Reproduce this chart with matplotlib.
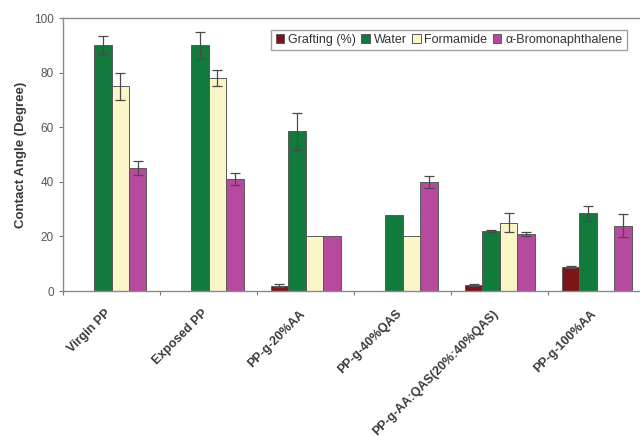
import numpy as np
import matplotlib.pyplot as plt
from matplotlib.transforms import ScaledTranslation

plt.rcParams['font.family'] = ['Liberation Sans', 'DejaVu Sans']

samples = ["Virgin PP", "Exposed PP", "PP-g-20%AA", "PP-g-40%QAS",
           "PP-g-AA:QAS(20%:40%QAS)", "PP-g-100%AA"]

grafting = [np.nan, np.nan, 2.0, np.nan, 2.2, 8.8]
grafting_err = [0, 0, 0.7, 0, 0.3, 0.3]
water = [90, 90, 58.5, 28, 22, 28.5]
water_err = [3.3, 5, 6.7, 0, 0.5, 2.7]
formamide = [75, 78, 20, 20, 25, np.nan]
formamide_err = [5, 3, 0, 0, 3.5, 0]
bromo = [45, 41, 20, 40, 21, 24]
bromo_err = [2.5, 2.3, 0, 2.2, 0.8, 4.2]

series = [
    ("Grafting (%)", grafting, grafting_err, "#7d1418"),
    ("Water", water, water_err, "#137a3d"),
    ("Formamide", formamide, formamide_err, "#fbf6c8"),
    ("\u03b1-Bromonaphthalene", bromo, bromo_err, "#b64a9e"),
]

fig = plt.figure(figsize=(6.4, 4.37), dpi=100)
ax = fig.add_axes([0.0984, 0.334, 0.91, 0.6247])

x = np.arange(len(samples))
w = 0.18
for i, (name, vals, errs, col) in enumerate(series):
    pos = x + (i - 1.5) * w
    v = np.array(vals, dtype=float)
    e = np.array(errs, dtype=float)
    ax.bar(pos, np.nan_to_num(v), w, color=col, edgecolor="#5a5a5a",
           linewidth=0.7, label=name, zorder=2)
    show = ~np.isnan(v) & (e > 0)
    ax.errorbar(pos[show], v[show], yerr=e[show], fmt="none", ecolor="#4a4a4a",
                elinewidth=0.9, capsize=3.5, capthick=0.9, zorder=3)

ax.set_xlim(-0.5, len(samples) - 0.5)
ax.set_ylim(0, 100)
ax.set_yticks([0, 20, 40, 60, 80, 100])
ax.tick_params(axis="y", labelsize=8.5, labelcolor="#555555", color="#777777",
               length=3, width=0.8, direction="out")
ax.set_xticks(np.arange(len(samples) + 1) - 0.5, minor=True)
ax.set_xticks(x)
ax.set_xticklabels(samples, rotation=45, ha="right", rotation_mode="anchor",
                   fontsize=9, fontweight="bold", color="#3a3a3a")
ax.tick_params(axis="x", which="major", length=0, pad=12)
ax.tick_params(axis="x", which="minor", length=3, color="#777777", width=0.8)
# nudge the slanted category names a little to the left
shift = ScaledTranslation(-7 / 100, 0, fig.dpi_scale_trans)
for lab in ax.get_xticklabels():
    lab.set_transform(lab.get_transform() + shift)

for s in ["left", "bottom", "top", "right"]:
    ax.spines[s].set_color("#8a8a8a")
    ax.spines[s].set_linewidth(1.0)

ax.set_ylabel("Contact Angle (Degree)", fontsize=9.5, fontweight="bold",
              color="#3a3a3a", labelpad=5)

leg = fig.legend(loc="center", bbox_to_anchor=(0.414, 0.881, 0.575, 0.055),
                 ncol=4, fontsize=9, frameon=True, fancybox=False,
                 handlelength=0.7, handleheight=0.7, handletextpad=0.3,
                 columnspacing=0.3, borderpad=0.35, mode="expand")
leg.get_frame().set_edgecolor("#8a8a8a")
leg.get_frame().set_linewidth(1.0)
for t in leg.get_texts():
    t.set_color("#333333")

fig.savefig("out.png", dpi=100, facecolor="white")
